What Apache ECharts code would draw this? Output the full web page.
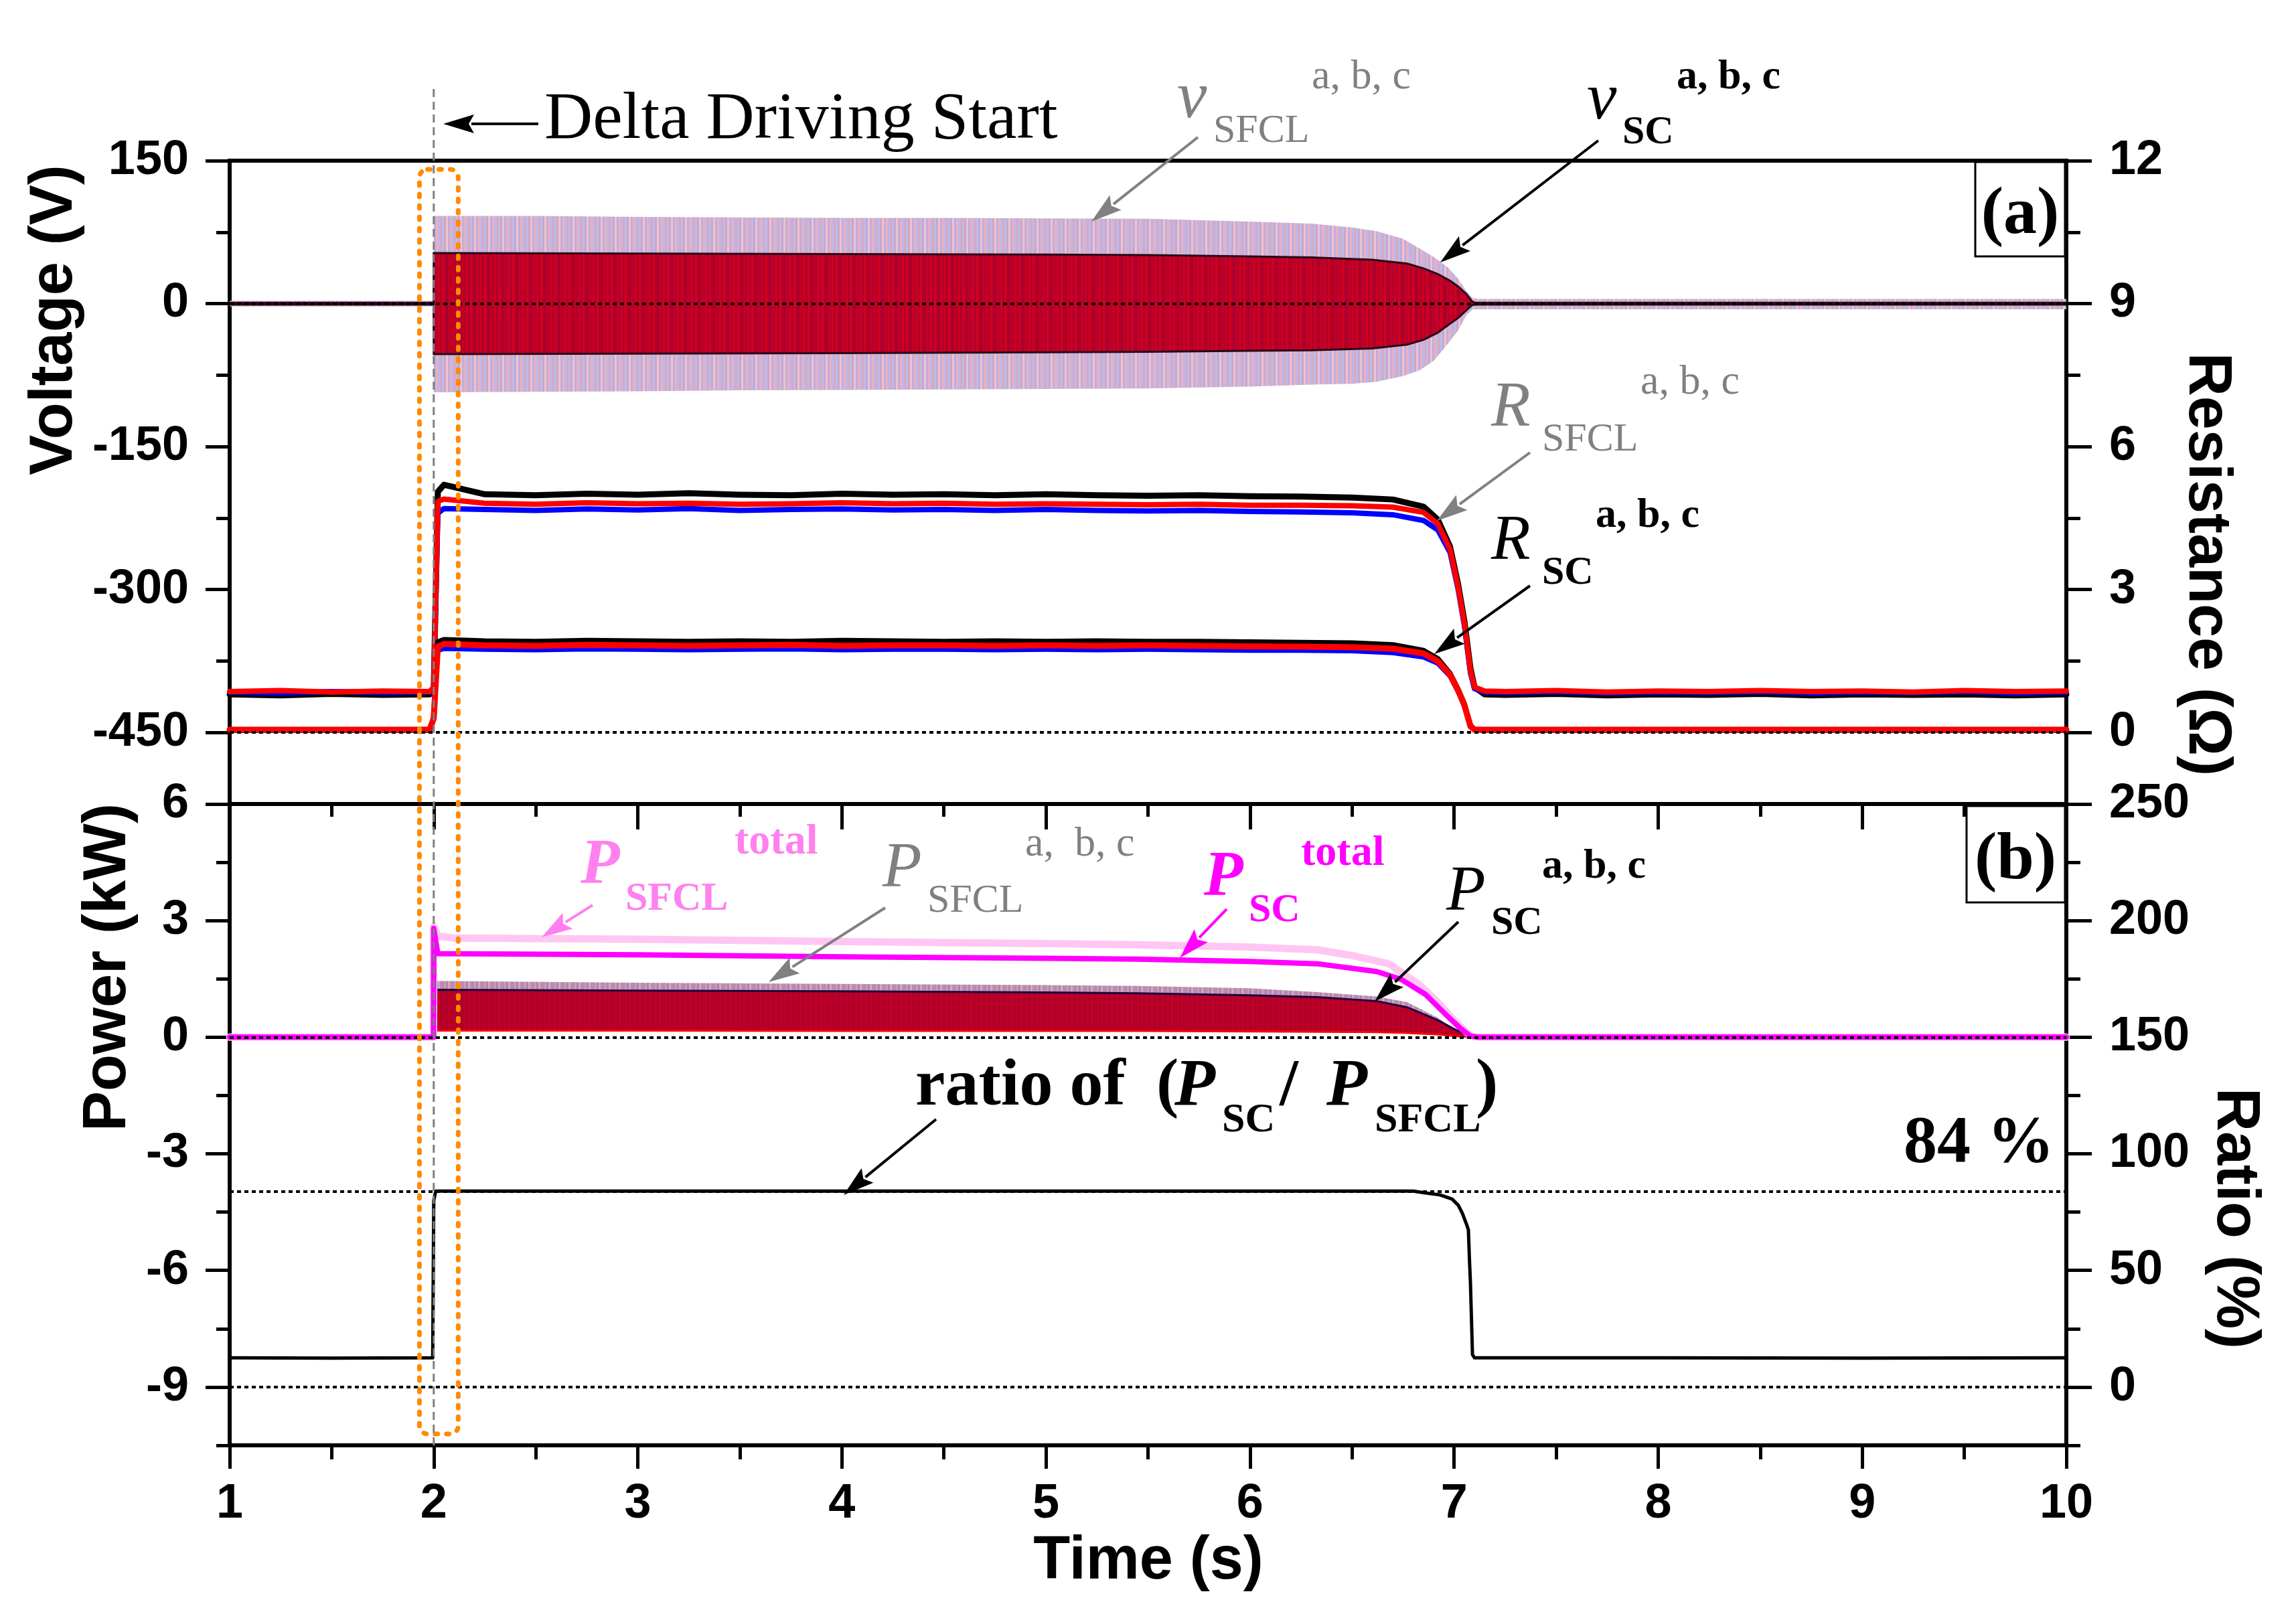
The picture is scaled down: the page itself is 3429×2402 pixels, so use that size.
<!DOCTYPE html>
<html>
<head>
<meta charset="utf-8">
<script src="https://cdn.jsdelivr.net/npm/echarts@6.0.0/dist/echarts.min.js"></script>
<style>
html,body{margin:0;padding:0;background:#ffffff;}
#chart{width:3429px;height:2402px;}
</style>
</head>
<body>
<div id="chart"></div>
<script>
// ---------------- tick values ----------------
const timeTicks = [1,2,3,4,5,6,7,8,9,10];
const timeMinor = [1.5,2.5,3.5,4.5,5.5,6.5,7.5,8.5,9.5];
const voltTicks = [-450,-300,-150,0,150];
const voltMinor = [-375,-225,-75,75];
const resTicks = [0,3,6,9,12];
const resMinor = [1.5,4.5,7.5,10.5];
const powTicks = [-9,-6,-3,0,3,6];
const powMinor = [-10.5,-7.5,-4.5,-1.5,1.5,4.5];
const ratioTicks = [0,50,100,150,200,250];
const ratioMinor = [-25,25,75,125,175,225];

// ---------------- panel (a): voltage envelopes (V) ----------------
const tVsfcl  = [1, 1.999, 2.0, 2.5, 3, 3.5, 4, 4.5, 5, 5.5, 6, 6.3, 6.5, 6.62, 6.75, 6.83, 6.9, 6.97, 7.02, 7.06, 7.09, 7.12, 10];
const vSfclHi = [3, 3, 92, 92, 91, 90.5, 90, 90, 89.5, 89, 86, 84, 80, 76, 68, 58, 49, 38, 26, 13, 6, 5, 5];
const vSfclLo = [-3, -3, -93, -92.5, -92, -91, -90.5, -90, -89.5, -89, -87, -85, -84, -82, -76, -70, -60, -42, -28, -12, -6, -6, -6];

const tVsc  = [1, 1.999, 2.0, 3, 4, 5, 5.5, 6, 6.3, 6.6, 6.77, 6.85, 6.92, 6.98, 7.02, 7.06, 7.085, 7.1, 10];
const vScHi = [1, 1, 53, 52.5, 52, 51.5, 51, 49.5, 48.5, 46, 42, 37, 31, 24, 18, 10, 3, 1, 1];
const vScLo = [-1, -1, -53, -52.5, -52, -51, -50.5, -49.5, -49, -47, -43, -38, -30.5, -21, -15, -7, -2, -1, -1];

// ---------------- panel (a): resistances (Ohm) ----------------
const tR = [1.00,1.25,1.50,1.75,1.98,2.00,2.02,2.05,2.25,2.50,2.75,3.00,3.25,3.50,3.75,4.00,4.25,4.50,4.75,5.00,5.25,5.50,5.75,6.00,6.25,6.50,6.70,6.85,6.92,6.98,7.02,7.05,7.08,7.10,7.15,7.25,7.50,7.75,8.00,8.25,8.50,8.75,9.00,9.25,9.50,9.75,10.00];
const rSfclA = [0.80,0.78,0.81,0.79,0.80,0.90,5.05,5.20,5.00,4.98,5.01,4.99,5.02,4.99,4.98,5.01,4.99,5.00,4.98,5.00,4.98,4.97,4.98,4.96,4.95,4.93,4.89,4.74,4.47,3.90,3.10,2.35,1.35,0.95,0.80,0.79,0.81,0.78,0.80,0.79,0.81,0.78,0.80,0.79,0.80,0.78,0.80];
const rSfclB = [0.85,0.83,0.86,0.84,0.85,0.90,4.60,4.70,4.68,4.66,4.69,4.67,4.70,4.66,4.68,4.69,4.67,4.68,4.66,4.68,4.66,4.65,4.66,4.64,4.63,4.61,4.57,4.45,4.25,3.78,3.00,2.25,1.25,0.92,0.85,0.84,0.86,0.83,0.85,0.84,0.86,0.83,0.85,0.84,0.86,0.83,0.85];
const rSfclC = [0.86,0.88,0.85,0.87,0.86,0.95,4.85,4.90,4.81,4.79,4.82,4.80,4.81,4.79,4.80,4.82,4.80,4.81,4.79,4.80,4.79,4.78,4.79,4.77,4.77,4.76,4.73,4.62,4.38,3.85,3.05,2.30,1.30,0.95,0.87,0.86,0.88,0.85,0.87,0.86,0.88,0.86,0.87,0.85,0.88,0.86,0.87];
const rScA = [0.05,0.05,0.05,0.05,0.05,0.30,1.90,1.95,1.92,1.91,1.93,1.92,1.91,1.92,1.91,1.93,1.92,1.91,1.92,1.91,1.92,1.91,1.91,1.90,1.89,1.88,1.84,1.72,1.55,1.24,0.90,0.60,0.15,0.06,0.05,0.05,0.05,0.05,0.05,0.05,0.05,0.05,0.05,0.05,0.05,0.05,0.05];
const rScB = [0.05,0.05,0.05,0.05,0.05,0.30,1.72,1.76,1.74,1.73,1.75,1.74,1.73,1.74,1.75,1.73,1.74,1.74,1.73,1.74,1.73,1.74,1.73,1.72,1.72,1.71,1.67,1.58,1.45,1.18,0.85,0.55,0.12,0.05,0.05,0.05,0.05,0.05,0.05,0.05,0.05,0.05,0.05,0.05,0.05,0.05,0.05];
const rScC = [0.06,0.06,0.06,0.06,0.06,0.30,1.80,1.86,1.83,1.82,1.84,1.83,1.82,1.83,1.84,1.82,1.83,1.83,1.82,1.83,1.82,1.83,1.82,1.81,1.80,1.79,1.76,1.66,1.50,1.21,0.88,0.58,0.13,0.06,0.06,0.06,0.06,0.06,0.06,0.06,0.06,0.06,0.06,0.06,0.06,0.06,0.06];

// ---------------- panel (b): power (kW) ----------------
const tPabc   = [1, 1.999, 2.0, 3, 4, 5, 5.45, 6, 6.33, 6.62, 6.77, 6.92, 7.0, 7.08, 7.1, 10];
const pSfclHi = [0, 0, 1.45, 1.40, 1.37, 1.34, 1.32, 1.26, 1.16, 1.05, 0.90, 0.50, 0.20, 0.02, 0, 0];
const pSfclLo = [0, 0, 0.15, 0.15, 0.15, 0.15, 0.15, 0.14, 0.13, 0.12, 0.10, 0.07, 0.03, 0, 0, 0];
const pScHi   = [0, 0, 1.22, 1.20, 1.18, 1.15, 1.13, 1.08, 1.03, 0.93, 0.77, 0.44, 0.21, 0.01, 0, 0];
const pScLo   = [0, 0, 0.17, 0.17, 0.16, 0.16, 0.16, 0.15, 0.14, 0.13, 0.11, 0.07, 0.03, 0, 0, 0];

const tPsfclTot = [1, 1.999, 2.0, 2.02, 2.1, 3, 4, 5, 5.45, 6, 6.33, 6.5, 6.68, 6.83, 6.92, 7.01, 7.08, 7.12, 10];
const pSfclTot  = [0, 0, 2.85, 2.60, 2.55, 2.52, 2.46, 2.41, 2.38, 2.32, 2.25, 2.10, 1.89, 1.35, 0.90, 0.37, 0.04, 0, 0];
const tPscTot = [1, 1.999, 2.0, 2.02, 3, 4, 5, 5.45, 6, 6.33, 6.62, 6.74, 6.86, 6.95, 7.03, 7.08, 7.12, 10];
const pScTot  = [0, 0, 2.80, 2.15, 2.12, 2.07, 2.03, 2.01, 1.95, 1.89, 1.69, 1.49, 1.10, 0.63, 0.23, 0.03, 0, 0];

// ---------------- panel (b): ratio (%) ----------------
const tRatio = [1, 1.5, 1.995, 2.0, 2.01, 3, 4, 5, 6, 6.8, 6.86, 6.93, 6.99, 7.02, 7.04, 7.06, 7.07, 7.075, 7.08, 7.09, 7.1, 8, 9, 10];
const ratio  = [12.5, 12.4, 12.5, 80, 84, 84, 84, 84, 84, 84, 83.2, 82.4, 80.6, 78, 74.6, 70, 67.4, 55, 44.8, 13.9, 12.5, 12.5, 12.4, 12.5];

// ---------------- styles ----------------
const SANS = "'Liberation Sans', Arial, Helvetica, sans-serif";
const SERIF = "'Liberation Serif', 'Times New Roman', serif";
const GRAY = '#808080', PINK = '#FF80EE', MAGENTA = '#FF00FF';

function stripes(colors, w) {
  const c = document.createElement('canvas');
  c.width = colors.length * w; c.height = 4;
  const ctx = c.getContext('2d');
  colors.forEach((col, i) => { ctx.fillStyle = col; ctx.fillRect(i * w, 0, w, 4); });
  return {image:c, repeat:'repeat'};
}
const FILL_VSFCL = stripes(['#E6B2C4','#C2B6E6','#D6AAC2','#B8BDEC','#CCA6CC','#F0C2CC','#C0AEDC'], 3);
const FILL_VSC   = stripes(['#B8002C','#CC0020','#B0002E','#D6001A','#B4002A','#A80030','#C4001E'], 3);
const FILL_PSFCL = stripes(['#B98BAA','#C69CBA','#B084A8','#D2A8C4','#BC8EAE'], 3);
const FILL_PSC   = stripes(['#B4002A','#BC0026','#AE002C','#C2001F','#B2002B'], 3);

const chart = echarts.init(document.getElementById('chart'), null, {renderer:'canvas', width:3429, height:2402});

const AXLINE = {show:true, onZero:false, lineStyle:{color:'#000', width:6, cap:'square'}};
const NOLINE = {show:false, onZero:false};
const TICKSTYLE = {color:'#000', width:5};
const LBL = {fontFamily:SANS, fontWeight:'bold', fontSize:72, color:'#000'};
const NOSPLIT = {show:false};

function xAx(grid, pos, opts) {
  return Object.assign({gridIndex:grid, type:'value', position:pos, min:1, max:10, interval:1,
    axisLine:AXLINE, axisTick:{show:false}, axisLabel:{show:false}, splitLine:NOSPLIT}, opts);
}
function yAx(grid, pos, min, max, opts) {
  return Object.assign({gridIndex:grid, type:'value', position:pos, min:min, max:max,
    axisLine:AXLINE, axisTick:{show:false}, axisLabel:{show:false}, splitLine:NOSPLIT}, opts);
}
function ticks(values, len, inside) {
  return {show:true, inside:!!inside, length:len, lineStyle:TICKSTYLE, customValues:values};
}
function labels(values, margin) {
  return Object.assign({show:true, margin:margin, customValues:values, hideOverlap:false}, LBL);
}

function lineSeries(name, t, v, xi, yi, color, width, extra) {
  return Object.assign({type:'line', name:name, xAxisIndex:xi, yAxisIndex:yi,
    data:t.map((x,i)=>[x, v[i]]), symbol:'none', showSymbol:false, silent:true, animation:false,
    lineStyle:{color:color, width:width, join:'round', cap:'round'}}, extra || {});
}
function bandSeries(name, t, lo, hi, xi, yi, fill, edgeHi, edgeLo, edgeW) {
  const data = t.map((x,i)=>[x, lo[i], hi[i]]);
  return {type:'custom', name:name, xAxisIndex:xi, yAxisIndex:yi, data:data, silent:true, clip:true, animation:false,
    encode:{x:0, y:[1,2]},
    renderItem:function(params, api){
      if (params.dataIndex !== 0) return null;
      const up = data.map(d => api.coord([d[0], d[2]]));
      const dn = data.map(d => api.coord([d[0], d[1]]));
      const kids = [{type:'polygon', shape:{points:up.concat(dn.slice().reverse())}, style:{fill:fill, stroke:'none'}}];
      if (edgeW > 0) {
        kids.push({type:'polyline', shape:{points:up}, style:{fill:'none', stroke:edgeHi, lineWidth:edgeW}});
        kids.push({type:'polyline', shape:{points:dn}, style:{fill:'none', stroke:edgeLo, lineWidth:edgeW}});
      }
      return {type:'group', children:kids};
    }};
}
const DOT = {type:[6,5], width:4, color:'#000'};
function refLines(values) {
  return {silent:true, symbol:['none','none'], animation:false, label:{show:false}, lineStyle:DOT,
    data:values.map(v => ({yAxis:v}))};
}

const option = {
  animation:false,
  backgroundColor:'#ffffff',
  grid:[
    {left:343, right:343, top:240, height:961, containLabel:false},
    {left:343, right:343, top:1201, height:958, containLabel:false}
  ],
  xAxis:[
    xAx(0, 'bottom', {}),
    xAx(0, 'top', {}),
    xAx(1, 'bottom', {axisTick:ticks(timeTicks, 35, false), axisLabel:labels(timeTicks, 52)}),
    xAx(1, 'bottom', {axisLine:NOLINE, axisTick:ticks(timeMinor, 21, false)}),
    xAx(1, 'top', {axisTick:ticks(timeTicks, 38, true)}),
    xAx(1, 'top', {axisLine:NOLINE, axisTick:ticks(timeMinor, 19, true)})
  ],
  yAxis:[
    yAx(0, 'left', -525, 150, {axisTick:ticks(voltTicks, 36, false), axisLabel:labels(voltTicks, 61)}),
    yAx(0, 'left', -525, 150, {axisLine:NOLINE, axisTick:ticks(voltMinor, 20, false)}),
    yAx(0, 'right', -1.5, 12, {axisTick:ticks(resTicks, 38, false), axisLabel:labels(resTicks, 64)}),
    yAx(0, 'right', -1.5, 12, {axisLine:NOLINE, axisTick:ticks(resMinor, 21, false)}),
    yAx(1, 'left', -10.5, 6, {axisTick:ticks(powTicks, 36, false), axisLabel:labels(powTicks, 61)}),
    yAx(1, 'left', -10.5, 6, {axisLine:NOLINE, axisTick:ticks(powMinor, 20, false)}),
    yAx(1, 'right', -25, 250, {axisTick:ticks(ratioTicks, 38, false), axisLabel:labels(ratioTicks, 64)}),
    yAx(1, 'right', -25, 250, {axisLine:NOLINE, axisTick:ticks(ratioMinor, 21, false)})
  ],
  series:[
    bandSeries('v_SFCL a,b,c', tVsfcl, vSfclLo, vSfclHi, 0, 0, FILL_VSFCL, 'none', 'none', 0),
    bandSeries('v_SC a,b,c', tVsc, vScLo, vScHi, 0, 0, FILL_VSC, '#2a0818', '#2a0818', 3),
    lineSeries('R_SFCL a', tR, rSfclA, 0, 2, '#000000', 9),
    lineSeries('R_SFCL b', tR, rSfclB, 0, 2, '#0000FF', 8),
    lineSeries('R_SFCL c', tR, rSfclC, 0, 2, '#FF0000', 8),
    lineSeries('R_SC a', tR, rScA, 0, 2, '#000000', 8),
    lineSeries('R_SC b', tR, rScB, 0, 2, '#0000FF', 7),
    lineSeries('R_SC c', tR, rScC, 0, 2, '#FF0000', 9, {markLine:refLines([9, 0])}),
    bandSeries('P_SFCL a,b,c', tPabc, pSfclLo, pSfclHi, 2, 4, FILL_PSFCL, 'none', 'none', 0),
    bandSeries('P_SC a,b,c', tPabc, pScLo, pScHi, 2, 4, FILL_PSC, '#200040', '#FF0000', 3),
    lineSeries('P_SFCL total', tPsfclTot, pSfclTot, 2, 4, '#FFC6F4', 11),
    lineSeries('P_SC total', tPscTot, pScTot, 2, 4, MAGENTA, 8, {markLine:refLines([0])}),
    lineSeries('ratio', tRatio, ratio, 2, 6, '#000000', 5, {markLine:refLines([84, 0])})
  ]
};
chart.setOption(option);

// ---------------- annotations ----------------
function txt(s, x, baseline, size, o) {
  o = o || {};
  const y = baseline - 0.34 * size;
  return {type:'text', z:100, x:x, y:y, silent:true,
    style:{text:s, fill:o.color || '#000', fontSize:size, fontFamily:o.family || SERIF,
      fontWeight:o.bold ? 'bold' : 'normal', fontStyle:o.italic ? 'italic' : 'normal',
      align:o.align || 'left', verticalAlign:'middle', textAlign:o.align || 'left', textVerticalAlign:'middle'}};
}
function rtxt(s, x, y, rot, size) {
  return {type:'text', z:100, x:x, y:y, rotation:rot, silent:true,
    style:{text:s, fill:'#000', fontSize:size, fontFamily:SANS, fontWeight:'bold',
      align:'center', verticalAlign:'middle', textAlign:'center', textVerticalAlign:'middle'}};
}
function arrow(x1, y1, x2, y2, color) {
  const dx = x2 - x1, dy = y2 - y1, L = Math.sqrt(dx*dx + dy*dy);
  const ux = dx / L, uy = dy / L, hl = 46, hw = 14;
  const bx = x2 - ux * hl, by = y2 - uy * hl;
  return [
    {type:'line', z:100, silent:true, shape:{x1:x1, y1:y1, x2:bx + ux*4, y2:by + uy*4}, style:{stroke:color, lineWidth:4}},
    {type:'polygon', z:100, silent:true, shape:{points:[[x2, y2], [bx - uy*hw, by + ux*hw], [bx + ux*8, by + uy*8], [bx + uy*hw, by - ux*hw]]}, style:{fill:color}}
  ];
}

const x2 = chart.convertToPixel({xAxisIndex:0}, 2);
const xBoxL = chart.convertToPixel({xAxisIndex:0}, 1.93);
const xBoxR = chart.convertToPixel({xAxisIndex:0}, 2.12);

let g = [];
g.push({type:'rect', z:90, silent:true, shape:{x:xBoxL, y:253, width:xBoxR - xBoxL, height:2142 - 253, r:12},
  style:{fill:'none', stroke:'#FF8A00', lineWidth:7, lineDash:[4, 13], lineCap:'round'}});
g.push({type:'line', z:95, silent:true, shape:{x1:x2, y1:133, x2:x2, y2:2160}, style:{stroke:'#7f7f7f', lineWidth:3, lineDash:[12, 7]}});

g.push(rtxt('Voltage (V)', 82, 478, Math.PI/2, 90));
g.push(rtxt('Power (kW)', 162, 1445, Math.PI/2, 90));
g.push(rtxt('Resistance (\u03A9)', 3295, 843, -Math.PI/2, 90));
g.push(rtxt('Ratio (%)', 3337, 1820, -Math.PI/2, 90));
g.push(rtxt('Time (s)', 1715, 2333, 0, 90));

g.push({type:'rect', z:100, silent:true, shape:{x:2950, y:242, width:134, height:141}, style:{fill:'#fff', stroke:'#000', lineWidth:3}});
g.push(txt('(a)', 3017, 356, 100, {bold:true, align:'center'}));
g.push({type:'rect', z:100, silent:true, shape:{x:2937, y:1204, width:147, height:144}, style:{fill:'#fff', stroke:'#000', lineWidth:3}});
g.push(txt('(b)', 3010, 1320, 100, {bold:true, align:'center'}));

g.push(txt('Delta Driving Start', 813, 214, 100, {}));
g = g.concat(arrow(804, 185, 662, 185, '#000'));

g.push(txt('v', 1758, 183, 100, {italic:true, color:GRAY}));
g.push(txt('SFCL', 1812, 217, 60, {color:GRAY}));
g.push(txt('a, b, c', 1959, 137, 62, {color:GRAY}));
g = g.concat(arrow(1789, 205, 1630, 331, GRAY));

g.push(txt('v', 2370, 185, 100, {italic:true}));
g.push(txt('SC', 2423, 219, 60, {bold:true}));
g.push(txt('a, b, c', 2504, 137, 62, {bold:true}));
g = g.concat(arrow(2387, 210, 2151, 392, '#000'));

g.push(txt('R', 2227, 643, 96, {italic:true, color:GRAY}));
g.push(txt('SFCL', 2303, 678, 60, {color:GRAY}));
g.push(txt('a, b, c', 2450, 593, 62, {color:GRAY}));
g = g.concat(arrow(2285, 676, 2146, 778, GRAY));

g.push(txt('R', 2227, 842, 96, {italic:true}));
g.push(txt('SC', 2303, 877, 60, {bold:true}));
g.push(txt('a, b, c', 2383, 792, 62, {bold:true}));
g = g.concat(arrow(2285, 875, 2142, 977, '#000'));

g.push(txt('P', 867, 1327, 96, {italic:true, bold:true, color:PINK}));
g.push(txt('SFCL', 934, 1364, 60, {bold:true, color:PINK}));
g.push(txt('total', 1097, 1280, 64, {bold:true, color:PINK}));
g = g.concat(arrow(885, 1352, 809, 1400, PINK));

g.push(txt('P', 1318, 1331, 96, {italic:true, color:GRAY}));
g.push(txt('SFCL', 1385, 1367, 60, {color:GRAY}));
g.push(txt('a,  b, c', 1531, 1283, 62, {color:GRAY}));
g = g.concat(arrow(1322, 1356, 1148, 1467, GRAY));

g.push(txt('P', 1798, 1345, 96, {italic:true, bold:true, color:MAGENTA}));
g.push(txt('SC', 1865, 1381, 60, {bold:true, color:MAGENTA}));
g.push(txt('total', 1943, 1297, 64, {bold:true, color:MAGENTA}));
g = g.concat(arrow(1832, 1358, 1762, 1431, MAGENTA));

g.push(txt('P', 2160, 1366, 96, {italic:true}));
g.push(txt('SC', 2227, 1400, 60, {bold:true}));
g.push(txt('a, b, c', 2303, 1316, 62, {bold:true}));
g = g.concat(arrow(2178, 1377, 2053, 1496, '#000'));

g.push(txt('ratio of', 1367, 1658, 100, {bold:true}));
g.push(txt('(', 1727, 1658, 100, {bold:true}));
g.push(txt('P', 1754, 1658, 100, {italic:true, bold:true}));
g.push(txt('SC', 1825, 1695, 62, {bold:true}));
g.push(txt('/', 1911, 1658, 100, {bold:true}));
g.push(txt('P', 1981, 1658, 100, {italic:true, bold:true}));
g.push(txt('SFCL', 2053, 1695, 62, {bold:true}));
g.push(txt(')', 2204, 1658, 100, {bold:true}));
g = g.concat(arrow(1398, 1672, 1260, 1785, '#000'));
g.push(txt('84 %', 2843, 1743, 100, {bold:true}));

chart.setOption({graphic:{elements:g}});
</script>
</body>
</html>
